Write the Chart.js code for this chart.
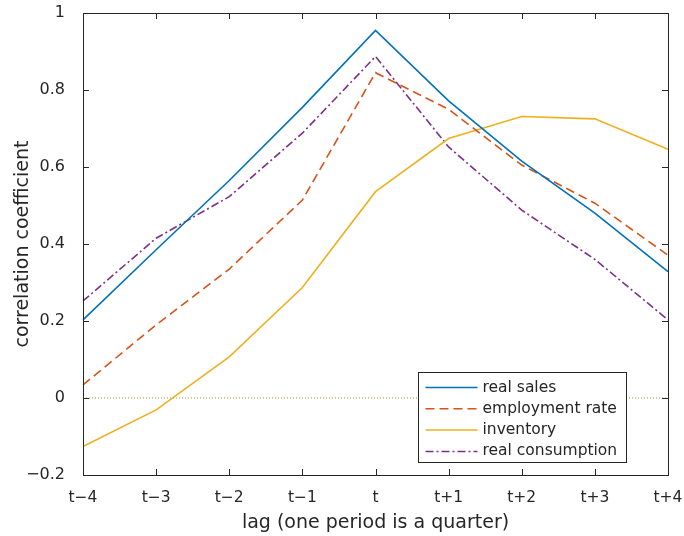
<!DOCTYPE html>
<html>
<head>
<meta charset="utf-8">
<script src="https://cdn.jsdelivr.net/npm/chart.js@4"></script>
<style>
  html, body { margin: 0; padding: 0; background: #fff; }
  #wrap { width: 684px; height: 536px; }
</style>
</head>
<body>
<div id="wrap"><canvas id="corrChart"></canvas></div>
<script>
// lags (one period is a quarter)
const lags = ['t−4', 't−3', 't−2', 't−1', 't', 't+1', 't+2', 't+3', 't+4'];

const realSales       = [0.203, 0.385, 0.565, 0.755, 0.955, 0.772, 0.615, 0.480, 0.328];
const employmentRate  = [0.034, 0.190, 0.335, 0.514, 0.845, 0.750, 0.605, 0.506, 0.371];
const inventory       = [-0.126, -0.031, 0.107, 0.287, 0.536, 0.674, 0.731, 0.725, 0.646];
const realConsumption = [0.252, 0.415, 0.523, 0.688, 0.887, 0.652, 0.488, 0.360, 0.203];

const yTicks = [-0.2, 0, 0.2, 0.4, 0.6, 0.8, 1];
const zeroLevel = 0;

const FONT = '"DejaVu Sans", sans-serif';

// inward tick marks, box, zero reference line and legend inside the axes
const matlabAxes = {
    id: 'matlabAxes',
    beforeDatasetsDraw(chart) {
        const ctx = chart.ctx;
        const a = chart.chartArea;
        const y0 = chart.scales.y.getPixelForValue(zeroLevel);
        ctx.save();
        ctx.strokeStyle = '#9c9c3a';
        ctx.lineWidth = 1;
        ctx.setLineDash([1, 2]);
        ctx.beginPath();
        ctx.moveTo(a.left, y0);
        ctx.lineTo(a.right, y0);
        ctx.stroke();
        ctx.restore();
    },
    afterDatasetsDraw(chart) {
        const ctx = chart.ctx;
        const a = chart.chartArea;
        const xs = chart.scales.x, ys = chart.scales.y;
        const tl = 6;
        ctx.save();
        ctx.strokeStyle = '#262626';
        ctx.lineWidth = 1;
        ctx.beginPath();
        xs.ticks.forEach(function (t, i) {
            const px = Math.round(xs.getPixelForTick(i)) + 0.5;
            ctx.moveTo(px, a.bottom); ctx.lineTo(px, a.bottom - tl);
            ctx.moveTo(px, a.top); ctx.lineTo(px, a.top + tl);
        });
        ys.ticks.forEach(function (t, i) {
            const py = Math.round(ys.getPixelForTick(i)) + 0.5;
            ctx.moveTo(a.left, py); ctx.lineTo(a.left + tl, py);
            ctx.moveTo(a.right, py); ctx.lineTo(a.right - tl, py);
        });
        ctx.stroke();
        ctx.strokeRect(Math.round(a.left) + 0.5, Math.round(a.top) + 0.5,
            Math.round(a.right - a.left), Math.round(a.bottom - a.top));

        // legend box
        const bw = 208, bh = 90;
        const bx = Math.round(a.right - 42 - bw) + 0.5;
        const by = Math.round(a.bottom - 13 - bh) + 0.5;
        ctx.fillStyle = '#fff';
        ctx.fillRect(bx, by, bw, bh);
        ctx.strokeRect(bx, by, bw, bh);
        ctx.font = '15.5px ' + FONT;
        ctx.textBaseline = 'middle';
        chart.data.datasets.forEach(function (ds, i) {
            const cy = by + 15 + i * 21.3;
            ctx.strokeStyle = ds.borderColor;
            ctx.lineWidth = 1.5;
            ctx.setLineDash(ds.borderDash || []);
            ctx.beginPath();
            ctx.moveTo(bx + 7, cy);
            ctx.lineTo(bx + 59, cy);
            ctx.stroke();
            ctx.setLineDash([]);
            ctx.fillStyle = '#262626';
            ctx.fillText(ds.label, bx + 64, cy);
        });
        ctx.restore();
    }
};

function noScalePadding(scale) {
    scale.paddingTop = 0;
    scale.paddingBottom = 0;
    scale.paddingLeft = 0;
    scale.paddingRight = 0;
}

const ctx = document.getElementById('corrChart').getContext('2d');
const corrChart = new Chart(ctx, {
    type: 'line',
    data: {
        labels: lags,
        datasets: [
            { label: 'real sales', data: realSales, borderColor: '#0072BD' },
            { label: 'employment rate', data: employmentRate, borderColor: '#D95319', borderDash: [9, 5] },
            { label: 'inventory', data: inventory, borderColor: '#EDB120' },
            { label: 'real consumption', data: realConsumption, borderColor: '#7E2F8E', borderDash: [8, 3, 2, 3] }
        ]
    },
    options: {
        responsive: true,
        maintainAspectRatio: false,
        animation: false,
        layout: { padding: { top: 13, right: 16, left: 0, bottom: 0 } },
        elements: {
            line: { borderWidth: 1.6, tension: 0, fill: false },
            point: { radius: 0 }
        },
        plugins: {
            legend: { display: false },
            tooltip: { enabled: false }
        },
        scales: {
            x: {
                offset: false,
                grid: { display: false },
                border: { display: false },
                ticks: { color: '#262626', font: { family: FONT, size: 15.5 }, padding: 6, maxRotation: 0 },
                title: {
                    display: true,
                    text: 'lag (one period is a quarter)',
                    color: '#262626',
                    font: { family: FONT, size: 19 },
                    padding: { top: 0, bottom: 2 }
                },
                afterFit: function (scale) { scale.height = 61; noScalePadding(scale); }
            },
            y: {
                min: -0.2,
                max: 1,
                grid: { display: false },
                border: { display: false },
                afterBuildTicks: function (scale) {
                    scale.ticks = yTicks.map(function (v) { return { value: v }; });
                },
                ticks: {
                    color: '#262626',
                    font: { family: FONT, size: 16 },
                    padding: 10,
                    callback: function (v) { return String(Math.round(v * 10) / 10).replace('-', '−'); }
                },
                title: {
                    display: true,
                    text: 'correlation coefficient',
                    color: '#262626',
                    font: { family: FONT, size: 19 },
                    padding: { top: 12, bottom: 0 }
                },
                afterFit: function (scale) { scale.width = 83; noScalePadding(scale); }
            }
        }
    },
    plugins: [matlabAxes]
});
</script>
</body>
</html>
